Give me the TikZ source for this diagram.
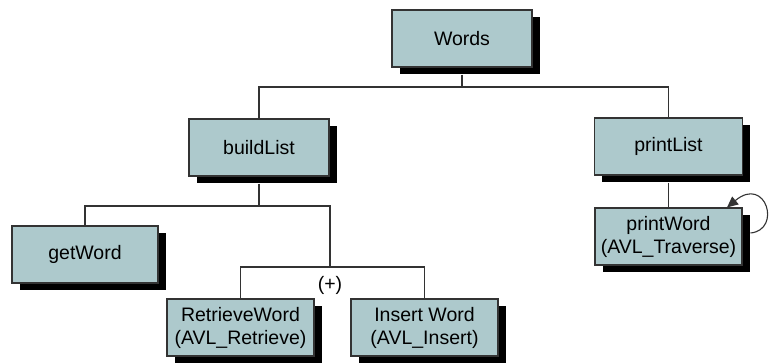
\documentclass[tikz,border=0pt]{standalone}
\usepackage{fontspec}
\setmainfont{Liberation Sans}
\usetikzlibrary{shadows,arrows.meta}
\definecolor{boxfill}{RGB}{173,201,204}
\definecolor{linegray}{RGB}{51,51,51}
\begin{document}
\begin{tikzpicture}[x=1pt,y=-1pt,
  fnbox/.style={draw=linegray, line width=1.1pt, fill=boxfill, minimum height=57pt,
    inner sep=0pt, align=center, font=\fontsize{19.5}{23}\selectfont, text=black,
    drop shadow={shadow xshift=7.5pt, shadow yshift=-7pt, opacity=1, fill=black}},
  conn/.style={draw=linegray, line width=1.1pt}]
\useasboundingbox (0,0) rectangle (769,362);
% junction coordinates
\coordinate (j1) at (462,87);
\coordinate (j2) at (259,206);
\coordinate (j3) at (330,267);
\node[fnbox, minimum width=140pt] (words) at (462,38.5) {Words};
\node[fnbox, minimum width=140pt] (build) at (259,147.5) {buildList};
\node[fnbox, minimum width=148pt] (plist) at (668.5,146.5) {printList};
\node[fnbox, minimum width=147pt] (pword) at (668.5,236.5) {printWord\\(AVL\_Traverse)};
\node[fnbox, minimum width=146pt] (getw) at (85,254.5) {getWord};
\node[fnbox, minimum width=147pt] (retr) at (240.5,327.5) {RetrieveWord\\(AVL\_Retrieve)};
\node[fnbox, minimum width=147pt] (ins) at (424.5,327.5) {Insert Word\\(AVL\_Insert)};
% connectors
\draw[conn] (words.south |- 0,74.5) -- (j1);
\draw[conn] (build.north) -- (build.north |- j1) -- (plist.north |- j1) -- (plist.north);
\draw[conn] (build.south |- 0,183.5) -- (j2);
\draw[conn] (getw.north) -- (getw.north |- j2) -- (j3 |- j2) -- (j3);
\draw[conn] (retr.north) -- (retr.north |- j3) -- (ins.north |- j3) -- (ins.north);
\draw[conn] (plist.south |- 0,182.5) -- (pword.north);
\node[font=\fontsize{19.5}{23}\selectfont, text=black] (plus) at (330,285) {(+)};
% self loop
\coordinate (loopstart) at (750.5,233);
\draw[conn, -{Triangle[length=11pt,width=10pt]}] (loopstart) .. controls (782,230) and (766,175) .. (pword.north east -| 727,0);
\end{tikzpicture}
\end{document}
